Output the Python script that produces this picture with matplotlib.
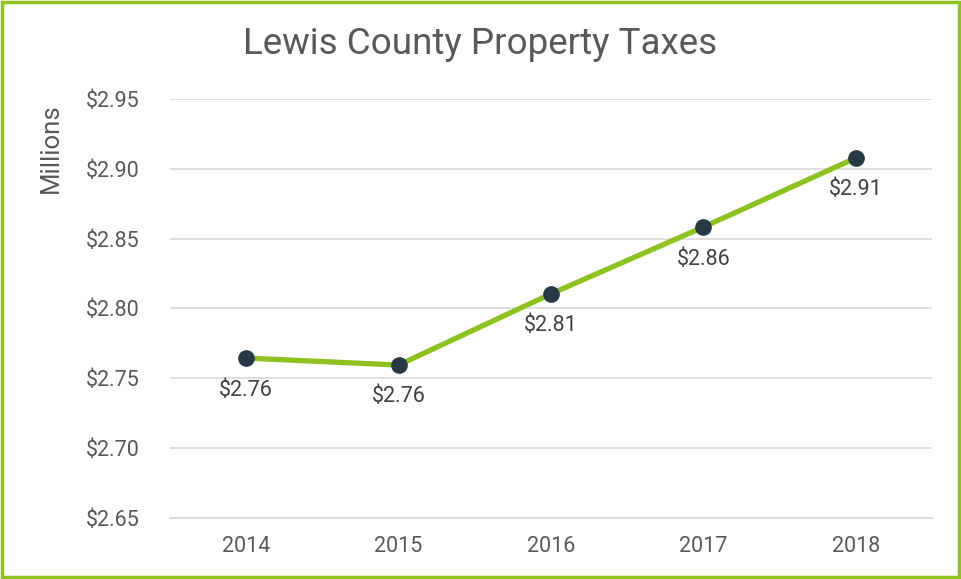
import matplotlib.pyplot as plt
from matplotlib.patches import Rectangle

plt.rcParams['font.family'] = ['Roboto', 'DejaVu Sans']

# Datos (millones de dólares)
years = ['2014', '2015', '2016', '2017', '2018']
taxes = [2.7645, 2.7595, 2.8105, 2.8583, 2.9078]
y_ticks = [2.65, 2.70, 2.75, 2.80, 2.85, 2.90, 2.95]

green = '#8DC21F'
dot = '#263944'
grey = '#595959'

fig = plt.figure(figsize=(9.62, 5.79), dpi=100)
ax = fig.add_axes([0.1767, 0.1054, 0.792, 0.7236])

x = list(range(len(years)))
ax.plot(x, taxes, color=green, lw=3.8, zorder=3, solid_capstyle='butt')
ax.plot(x, taxes, 'o', color=dot, markersize=11, zorder=4)

for xi, v in zip(x, taxes):
    ax.annotate(f'${v:.2f}', (xi, v), xytext=(0, -23), textcoords='offset points',
                ha='center', va='center', fontsize=15.5, color='#404040')

ax.set_xlim(-0.5, len(years) - 0.5)
ax.set_ylim(2.65, 2.95)
ax.set_xticks(x)
ax.set_xticklabels(years)
ax.set_yticks(y_ticks)
ax.set_yticklabels([f'${t:.2f}' for t in y_ticks])
ax.tick_params(length=0, labelsize=15.5, colors=grey)
ax.tick_params(axis='y', pad=22)
ax.tick_params(axis='x', pad=13)
ax.grid(axis='y', color='#D9D9D9', lw=1.2)
ax.set_axisbelow(True)
for s in ['top', 'right', 'left']:
    ax.spines[s].set_visible(False)
ax.spines['bottom'].set_color('#D9D9D9')
ax.spines['bottom'].set_linewidth(1.2)

fig.text(0.499, 0.924, 'Lewis County Property Taxes', ha='center', va='center',
         fontsize=26.5, color=grey)
fig.text(0.053, 0.744, 'Millions', rotation=90, ha='center', va='center',
         fontsize=18.5, color=grey)

# Marco verde
fig.patches.append(Rectangle((0.002, 0.003), 0.995, 0.993, transform=fig.transFigure,
                             fill=False, edgecolor=green, lw=2.5))

fig.savefig('out.png', dpi=100)
